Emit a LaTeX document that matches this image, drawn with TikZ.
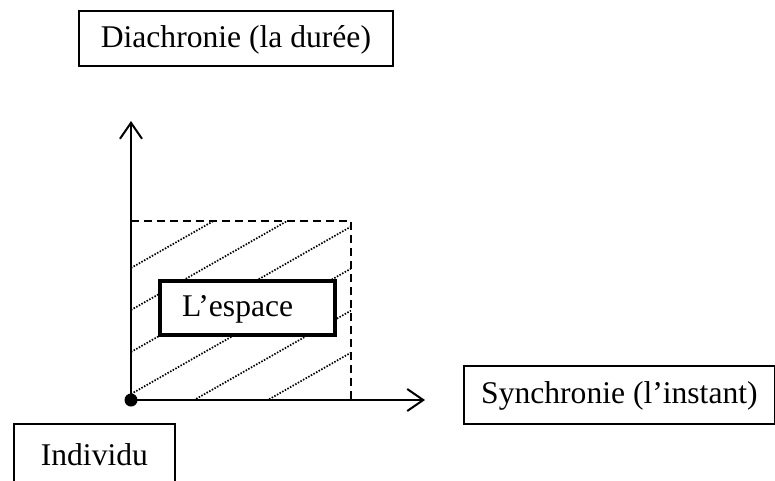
\documentclass[tikz,border=0pt]{standalone}
\usepackage{fontspec}
\setmainfont{Liberation Serif}
\usetikzlibrary{arrows.meta}
\begin{document}
\begin{tikzpicture}[x=1pt,y=-1pt,
  txt/.style={font=\fontsize{31.6}{36}\selectfont, text height=21.6pt, text depth=4pt},
  labelbox/.style={txt, draw, line width=1.8pt, inner sep=0pt, anchor=north west},
  axis/.style={line width=2pt, -{Straight Barb[length=16pt,width=22pt,line width=2pt]}},
  hatch/.style={line width=1.7pt, dash pattern=on 1.5pt off 1.5pt},
  frame/.style={line width=2pt, dash pattern=on 8pt off 5pt}]
\useasboundingbox (0,0) rectangle (775,480);

% hatched area of the plane
\begin{scope}
  \clip (131,221) rectangle (351,400);
  \foreach \c in {268,310,352,394,436,478}
    \draw[hatch] (131,\c) -- (351,\c-125.4);
\end{scope}

% dashed upper and right edges of the area
\coordinate (fa) at (131,221);
\coordinate (fb) at (351,221);
\coordinate (fc) at (351,400);
\draw[frame] (fa) -- (fb) -- (fc);

% axes
\node[circle, fill, inner sep=0pt, minimum size=13pt] (origin) at (131,400) {};
\coordinate (ytip) at (131,121);
\coordinate (xtip) at (425,400);
\draw[axis] (origin.center) -- (ytip);
\draw[axis] (origin.center) -- (xtip);

% labels
\node[labelbox, minimum width=314pt, minimum height=55pt] (dia) at (78,10) {Diachronie (la durée)};
\node[labelbox, minimum width=311pt, minimum height=58pt] (syn) at (463,365) {Synchronie (l’instant)};
\node[labelbox, minimum width=161pt, minimum height=65pt] (ind) at (13,423) {Individu};
\node[txt, draw, line width=4pt, fill=white, inner ysep=0pt, inner xsep=22pt,
      align=left, text width=131pt, minimum height=54pt] (esp) at (247.5,308) {L’espace};
\end{tikzpicture}
\end{document}
